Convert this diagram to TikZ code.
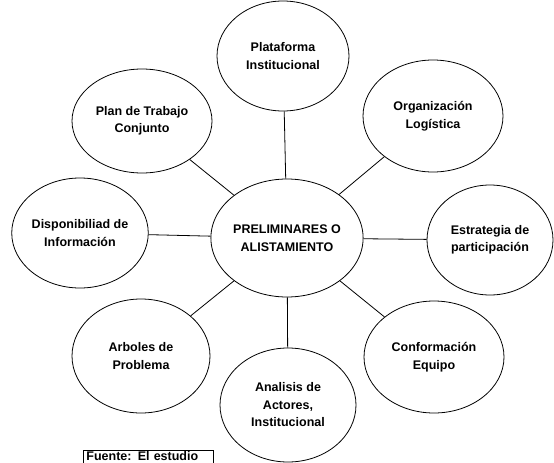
\documentclass[tikz,border=0pt]{standalone}
\usepackage{fontspec}
\setmainfont{Liberation Sans}
\usetikzlibrary{shapes.geometric}
\begin{document}
\begin{tikzpicture}[x=1pt,y=-1pt,
  bubble/.style={ellipse,draw,line width=0.8pt,inner sep=0pt,align=center,
    font=\fontsize{12.5}{17.5}\selectfont\bfseries},
  link/.style={line width=0.8pt}]
\useasboundingbox (0,0) rectangle (554,463);
\node[bubble,minimum width=140pt,minimum height=118pt] (c) at (287,238) {PRELIMINARES O\\ALISTAMIENTO};
\node[bubble,minimum width=132pt,minimum height=110pt] (plat) at (283,56) {Plataforma\\Institucional};
\node[bubble,minimum width=140pt,minimum height=112pt] (org) at (433,116) {Organización\\Logística};
\node[bubble,minimum width=126pt,minimum height=110pt] (est) at (490,240) {Estrategia de\\participación};
\node[bubble,minimum width=140pt,minimum height=112pt] (conf) at (434,357) {Conformación\\Equipo};
\node[bubble,minimum width=136pt,minimum height=114pt] (ana) at (288,405) {Analisis de\\Actores,\\Institucional};
\node[bubble,minimum width=138pt,minimum height=114pt] (arb) at (141,356) {Arboles de\\Problema};
\node[bubble,minimum width=136pt,minimum height=110pt] (disp) at (80,233) {Disponibiliad de\\Información};
\node[bubble,minimum width=140pt,minimum height=104pt] (plan) at (142,121) {Plan de Trabajo\\Conjunto};
\foreach \n in {plat,org,est,conf,ana,arb,disp,plan}
  \draw[link] (c) -- (\n);
\node[draw,line width=0.8pt,anchor=north west,
  inner xsep=3pt,inner ysep=1pt,text width=124pt,align=left,text depth=10pt,
  font=\fontsize{12.5}{15}\selectfont\bfseries] (src) at (83,450) {Fuente: El estudio};
\end{tikzpicture}
\end{document}
